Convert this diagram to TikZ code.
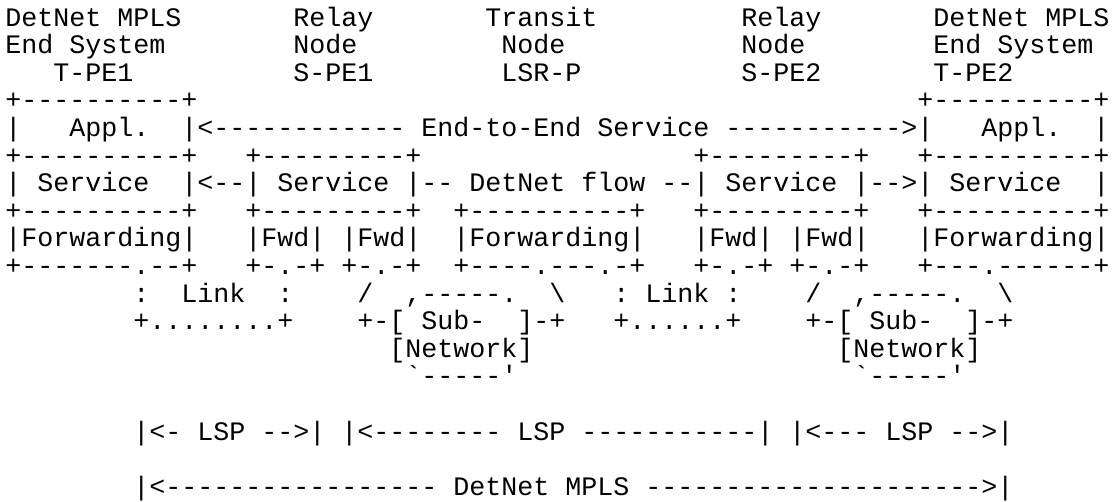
\documentclass[tikz,border=0pt]{standalone}
\usepackage{fontspec}
\setmonofont{Liberation Mono}
\newcommand{\sk}[1]{\hspace*{#1\dimexpr 0.6em\relax}}

\begin{document}
\frenchspacing
\begin{tikzpicture}[x=12pt,y=-20.7pt,
    asc/.style={font=\ttfamily\fontsize{20}{20}\selectfont,anchor=base west,inner sep=0pt}]
  \useasboundingbox (-3.75pt,19.5pt) rectangle (834pt,-356.25pt);
  % node headings
  \node[asc] (titles) at (0,0) {DetNet MPLS\sk{7}Relay\sk{7}Transit\sk{9}Relay\sk{7}DetNet MPLS};
  \node[asc] (kinds)  at (0,1) {End System\sk{8}Node\sk{9}Node\sk{11}Node\sk{8}End System};
  \node[asc] (ids)    at (0,2) {\sk{3}T-PE1\sk{10}S-PE1\sk{8}LSR-P\sk{10}S-PE2\sk{7}T-PE2};
  % stacks
  \node[asc] (apptop) at (0,3) {+----------+\sk{45}+----------+};
  \node[asc] (appl)   at (0,4) {|\sk{3}Appl.\sk{2}|<------------ End-to-End Service ----------->|\sk{3}Appl.\sk{2}|};
  \node[asc] (svctop) at (0,5) {+----------+\sk{3}+---------+\sk{17}+---------+\sk{3}+----------+};
  \node[asc] (svc)    at (0,6) {| Service\sk{2}|<--| Service |-- DetNet flow --| Service |-->| Service\sk{2}|};
  \node[asc] (svcbot) at (0,7) {+----------+\sk{3}+---------+\sk{2}+----------+\sk{3}+---------+\sk{3}+----------+};
  \node[asc] (fwd)    at (0,8) {|Forwarding|\sk{3}|Fwd| |Fwd|\sk{2}|Forwarding|\sk{3}|Fwd| |Fwd|\sk{3}|Forwarding|};
  \node[asc] (fwdbot) at (0,9) {+-------.--+\sk{3}+-.-+ +-.-+\sk{2}+----.---.-+\sk{3}+-.-+ +-.-+\sk{3}+---.------+};
  % links and sub-networks
  \node[asc] (links)  at (0,10) {\sk{8}:\sk{2}Link\sk{2}:\sk{4}/\sk{2},-----.\sk{2}\textbackslash\sk{3}: Link :\sk{4}/\sk{2},-----.\sk{2}\textbackslash};
  \node[asc] (subnet) at (0,11) {\sk{8}+........+\sk{4}+-[ Sub-\sk{2}]-+\sk{3}+......+\sk{4}+-[ Sub-\sk{2}]-+};
  \node[asc] (netwk)  at (0,12) {\sk{24}[Network]\sk{19}[Network]};
  \node[asc] (netbot) at (0,13) {\sk{25}`-----'\sk{21}`-----'};
  % spans
  \node[asc] (lsp)    at (0,15) {\sk{8}|<- LSP -->| |<-------- LSP -----------| |<--- LSP -->|};
  \node[asc] (mpls)   at (0,17) {\sk{8}|<----------------- DetNet MPLS --------------------->|};
\end{tikzpicture}
\end{document}
